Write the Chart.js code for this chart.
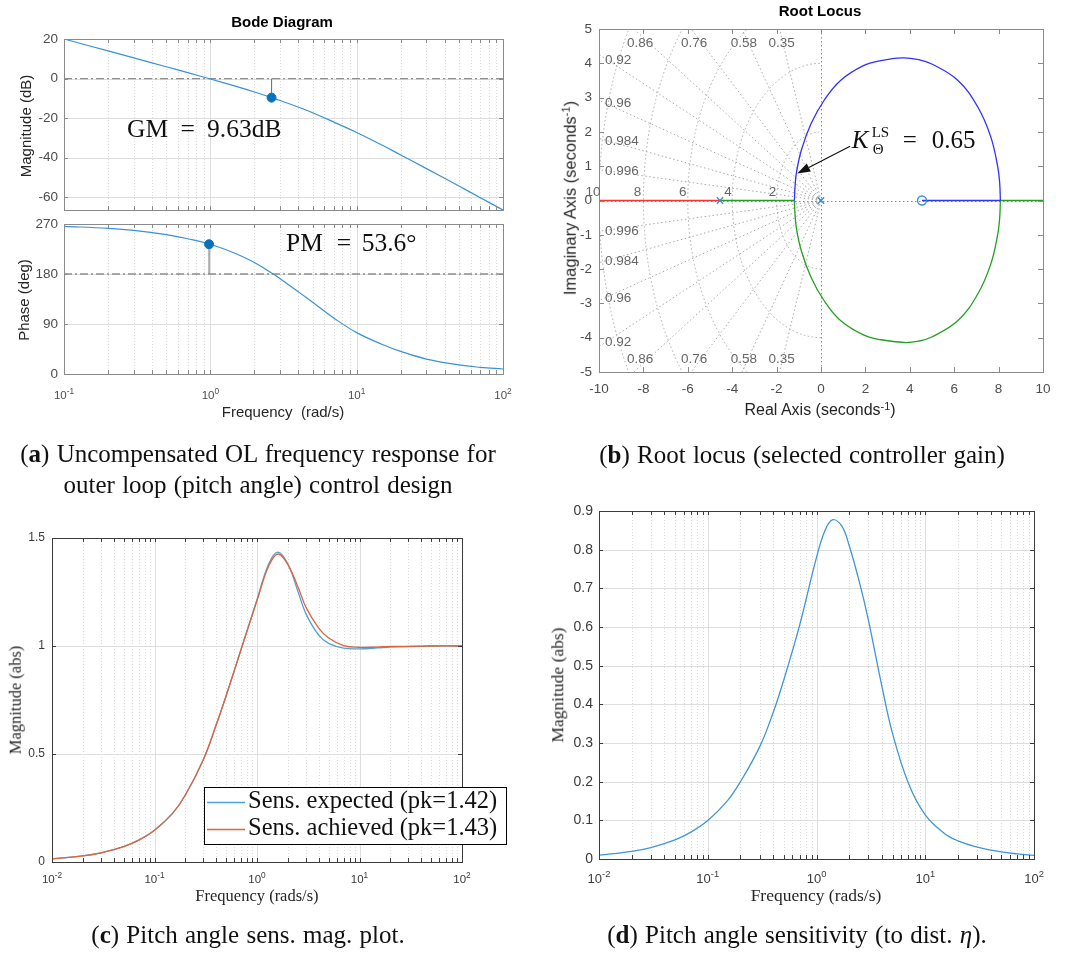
<!DOCTYPE html>
<html><head><meta charset="utf-8"><title>Pitch angle control design plots</title>
<script src="https://cdn.jsdelivr.net/npm/chart.js@4.4.1/dist/chart.umd.min.js"></script>
<style>
html,body{margin:0;padding:0;background:#fff}
#page{position:relative;width:1069px;height:954px;overflow:hidden;background:#fff}
canvas{position:absolute;left:0;top:0}
.lab{position:absolute;white-space:nowrap;line-height:1;transform:translate(-50%,-50%);color:#262626}
.rot{transform:translate(-50%,-50%) rotate(-90deg)}
.sans{font-family:"Liberation Sans",Arial,sans-serif}
.serif{font-family:"Liberation Serif","Times New Roman",serif}
.cap{position:absolute;white-space:nowrap;line-height:1;transform:translate(-50%,-50%);color:#111;font-family:"Liberation Serif","Times New Roman",serif;font-size:25px;word-spacing:1px}
sup{font-size:0.68em;vertical-align:0.5em;line-height:0}
</style></head><body><div id="page">
<canvas id="cMag" width="1069" height="954"></canvas>
<canvas id="cPhase" width="1069" height="954"></canvas>
<canvas id="cRoot" width="1069" height="954"></canvas>
<canvas id="cSens" width="1069" height="954"></canvas>
<canvas id="cDist" width="1069" height="954"></canvas>

<div class="lab sans" style="left:282px;top:21px;font-size:15px;font-weight:bold;color:#000">Bode Diagram</div>
<div class="lab sans rot" style="left:25px;top:126px;font-size:15px">Magnitude (dB)</div>
<div class="lab sans rot" style="left:23px;top:300px;font-size:15px">Phase (deg)</div>
<div class="lab sans" style="left:283px;top:411px;font-size:15px">Frequency&nbsp; (rad/s)</div>

<div class="lab sans" style="left:820px;top:10px;font-size:15px;font-weight:bold;color:#000">Root Locus</div>
<div class="lab sans rot" style="left:570px;top:198px;font-size:16.5px">Imaginary Axis (seconds<sup>-1</sup>)</div>
<div class="lab sans" style="left:820px;top:410px;font-size:16px">Real Axis (seconds<sup>-1</sup>)</div>

<div class="lab serif rot" style="left:16px;top:700px;font-size:16.5px">Magnitude (abs)</div>
<div class="lab serif" style="left:257px;top:896px;font-size:16.5px">Frequency (rads/s)</div>
<div class="lab serif rot" style="left:558px;top:685px;font-size:17.5px">Magnitude (abs)</div>
<div class="lab serif" style="left:816px;top:896px;font-size:17.5px">Frequency (rads/s)</div>

<div class="cap" style="left:258px;top:453px">(<b>a</b>) Uncompensated OL frequency response for</div>
<div class="cap" style="left:258px;top:484px">outer loop (pitch angle) control design</div>
<div class="cap" style="left:802px;top:454px">(<b>b</b>) Root locus (selected controller gain)</div>
<div class="cap" style="left:248px;top:934px">(<b>c</b>) Pitch angle sens. mag. plot.</div>
<div class="cap" style="left:797px;top:934px">(<b>d</b>) Pitch angle sensitivity (to dist. <i>η</i>).</div>
</div>
<script>
// ================= DATA =================
// (a) Bode diagram of the uncompensated open loop
const bodeDecades    = [0.1, 1, 10, 100];
const bodeMagTicks   = [-60, -40, -20, 0, 20];
const bodePhaseTicks = [0, 90, 180, 270];
const bodeFreq   = [0.1, 0.2, 0.3, 0.5, 0.7, 1, 1.5, 2, 2.62, 3, 4, 5, 7, 10, 15, 20, 30, 50, 70, 100];
const bodeMagDb  = [20.0, 13.97, 10.44, 5.97, 3.0, -0.2, -3.96, -6.78, -9.63, -11.1, -14.46, -17.25, -22.0, -27.2, -33.7, -38.6, -45.5, -54.3, -60.2, -66.4];
const phaseFreq  = [0.1, 0.2, 0.3, 0.5, 0.7, 1, 1.5, 2, 2.69, 3, 4, 5, 7, 10, 15, 20, 30, 50, 70, 100];
const phaseDeg   = [265.8, 262.2, 258.6, 251.0, 243.5, 233.6, 216.5, 200.6, 180, 171.5, 147.8, 129.0, 100.5, 74.5, 53.1, 40.6, 26.9, 16.3, 12.0, 9.0];
const gmFreq = [2.62], gmMagDb = [-9.63], gmRefDb = [0];
const pmFreq = [0.98], pmPhase = [233.6], pmRefDeg = [180];

// (b) Root locus
const rlXTicks = [-10, -8, -6, -4, -2, 0, 2, 4, 6, 8, 10];
const rlYTicks = [-5, -4, -3, -2, -1, 0, 1, 2, 3, 4, 5];
const rlDamping = [0.35, 0.58, 0.76, 0.86, 0.92, 0.96, 0.984, 0.996];
const rlNatFreq = [2, 4, 6, 8, 10];
const rlRedX = [-10, -4.55],   rlRedY = [0, 0];
const rlGreenLX = [-4.55, -1.2], rlGreenLY = [0, 0];
const rlBlueRX = [4.55, 8.08],  rlBlueRY = [0, 0];
const rlGreenRX = [8.08, 10],   rlGreenRY = [0, 0];
const rlUpperX = [-1.20, -1.17, -1.11, -0.88, -0.44, 0.15, 0.88, 1.91, 2.70, 3.65, 4.40, 4.99, 6.17, 7.05, 7.64, 7.96, 8.05, 8.08];
const rlUpperY = [0, 0.40, 0.80, 1.48, 2.25, 2.93, 3.50, 3.93, 4.08, 4.16, 4.11, 3.98, 3.50, 2.74, 1.87, 0.99, 0.50, 0];
const rlLowerX = [-1.20, -1.17, -1.11, -0.88, -0.44, 0.15, 0.88, 1.91, 2.70, 3.75, 4.40, 4.99, 6.17, 7.05, 7.64, 7.96, 8.05, 8.08];
const rlLowerY = [0, -0.40, -0.80, -1.48, -2.25, -2.93, -3.50, -3.92, -4.06, -4.14, -4.10, -3.98, -3.50, -2.74, -1.87, -0.99, -0.50, 0];
const rlPoleX = [-4.55, 0], rlPoleY = [0, 0];
const rlZeroX = [4.55],     rlZeroY = [0];
const rlGainX = [-1.07], rlGainY = [0.79];

// (c) Pitch angle sensitivity magnitude
const sensDecades = [0.01, 0.1, 1, 10, 100];
const sensTicks = [0, 0.5, 1, 1.5];
const sensFreq     = [0.01, 0.02, 0.03, 0.05, 0.07, 0.1, 0.15, 0.2, 0.3, 0.4, 0.5, 0.7, 1, 1.3, 1.6, 2, 2.5, 3, 4, 5, 7, 10, 15, 20, 50, 100];
const sensExpected = [0.014, 0.028, 0.042, 0.071, 0.101, 0.147, 0.225, 0.31, 0.475, 0.635, 0.77, 0.985, 1.215, 1.38, 1.435, 1.38, 1.255, 1.15, 1.05, 1.012, 0.99, 0.987, 0.991, 0.995, 1.0, 1.0];
const sensAchieved = [0.014, 0.028, 0.042, 0.071, 0.101, 0.147, 0.225, 0.31, 0.475, 0.635, 0.77, 0.985, 1.21, 1.37, 1.426, 1.377, 1.276, 1.18, 1.083, 1.037, 1.002, 0.994, 0.995, 0.998, 1.0, 1.0];
const sensNames = ['Sens. expected (pk=1.42)', 'Sens. achieved (pk=1.43)'];

// (d) Pitch angle sensitivity to disturbance
const distTicks = [0, 0.1, 0.2, 0.3, 0.4, 0.5, 0.6, 0.7, 0.8, 0.9];
const distFreq = [0.01, 0.02, 0.03, 0.05, 0.07, 0.1, 0.15, 0.2, 0.3, 0.4, 0.5, 0.7, 1, 1.2, 1.4, 1.7, 2, 2.5, 3, 4, 5, 7, 10, 15, 20, 30, 50, 70, 100];
const distMag  = [0.0098, 0.0197, 0.0296, 0.0495, 0.0695, 0.0995, 0.149, 0.2, 0.29, 0.379, 0.463, 0.605, 0.78, 0.85, 0.877, 0.862, 0.81, 0.712, 0.618, 0.446, 0.325, 0.196, 0.114, 0.066, 0.047, 0.031, 0.0185, 0.0133, 0.0093];

// ================= RENDERING =================
const W = 1069, H = 954;
const SANS = '"Liberation Sans", Arial, sans-serif';
const SERIF = '"Liberation Serif", "Times New Roman", serif';
const zip = (xs, ys) => xs.map((x, i) => ({x, y: ys[i]}));
const minorLog = d => { const o = []; for (let i = 0; i < d.length - 1; i++) for (let k = 2; k <= 9; k++) o.push(+(d[i] * k).toPrecision(3)); return o; };
function seg(ctx, x1, y1, x2, y2) { ctx.beginPath(); ctx.moveTo(x1, y1); ctx.lineTo(x2, y2); ctx.stroke(); }

function logLabel(ctx, v, px, baseY, size, color) {
  const e = String(Math.round(Math.log10(v)));
  ctx.font = size + 'px ' + SANS; const wb = ctx.measureText('10').width;
  const ss = size * 0.72;
  ctx.font = ss + 'px ' + SANS; const ws = ctx.measureText(e).width;
  const left = px - (wb + ws) / 2;
  ctx.fillStyle = color; ctx.textAlign = 'left'; ctx.textBaseline = 'alphabetic';
  ctx.font = size + 'px ' + SANS; ctx.fillText('10', left, baseY);
  ctx.font = ss + 'px ' + SANS; ctx.fillText(e, left + wb, baseY - size * 0.45);
}
function pieces(ctx, x0, y0, font, parts) {
  ctx.fillStyle = '#111'; ctx.textAlign = 'left'; ctx.textBaseline = 'alphabetic'; ctx.font = font;
  parts.forEach(([t, dx]) => ctx.fillText(t, x0 + dx, y0));
}

function frame(cfg) {
  return {
    id: 'frame',
    beforeDatasetsDraw(chart) {
      const {ctx, chartArea: a} = chart, x = chart.scales.x, y = chart.scales.y;
      ctx.save();
      ctx.beginPath(); ctx.rect(a.left, a.top, a.width, a.height); ctx.clip();
      ctx.lineWidth = 1;
      if (cfg.grid) {
        ctx.strokeStyle = cfg.minorColor || '#dcdcdc'; ctx.setLineDash([1, 2]);
        (cfg.xMinor || []).forEach(v => { const p = Math.round(x.getPixelForValue(v)) + 0.5; seg(ctx, p, a.top, p, a.bottom); });
        ctx.setLineDash([]); ctx.strokeStyle = cfg.majorColor || '#dedede';
        cfg.xTicks.forEach(v => { const p = Math.round(x.getPixelForValue(v)) + 0.5; seg(ctx, p, a.top, p, a.bottom); });
        cfg.yTicks.forEach(v => { const p = Math.round(y.getPixelForValue(v)) + 0.5; seg(ctx, a.left, p, a.right, p); });
      }
      if (cfg.under) cfg.under(chart, ctx, x, y);
      ctx.restore();
    },
    afterDatasetsDraw(chart) {
      const {ctx, chartArea: a} = chart, x = chart.scales.x, y = chart.scales.y;
      ctx.save();
      ctx.lineWidth = 1; ctx.strokeStyle = cfg.boxColor; ctx.setLineDash([]);
      const tl = cfg.tickLen || 4;
      cfg.xTicks.concat(cfg.xMinor || []).forEach(v => {
        const p = Math.round(x.getPixelForValue(v)) + 0.5;
        seg(ctx, p, a.bottom, p, a.bottom - tl); seg(ctx, p, a.top, p, a.top + tl);
      });
      cfg.yTicks.forEach(v => {
        const p = Math.round(y.getPixelForValue(v)) + 0.5;
        seg(ctx, a.left, p, a.left + tl, p); seg(ctx, a.right, p, a.right - tl, p);
      });
      ctx.strokeRect(Math.round(a.left) + 0.5, Math.round(a.top) + 0.5, Math.round(a.width), Math.round(a.height));
      const col = cfg.labelColor || '#4d4d4d';
      if (cfg.yLabels) {
        ctx.fillStyle = col; ctx.font = cfg.labelSize + 'px ' + SANS;
        ctx.textAlign = 'right'; ctx.textBaseline = 'middle';
        cfg.yTicks.forEach(v => ctx.fillText(String(v), a.left - cfg.yGap, y.getPixelForValue(v)));
      }
      if (cfg.xLabels === 'log') {
        cfg.xTicks.forEach(v => logLabel(ctx, v, x.getPixelForValue(v), a.bottom + cfg.xDy, cfg.logSize, col));
      } else if (cfg.xLabels === 'lin') {
        ctx.fillStyle = col; ctx.font = cfg.labelSize + 'px ' + SANS;
        ctx.textAlign = 'center'; ctx.textBaseline = 'alphabetic';
        cfg.xTicks.forEach(v => ctx.fillText(String(v), x.getPixelForValue(v), a.bottom + cfg.xDy));
      }
      if (cfg.over) cfg.over(chart, ctx, x, y);
      ctx.restore();
    }
  };
}

function makeChart(id, rect, scales, datasets, fr) {
  return new Chart(document.getElementById(id), {
    type: 'scatter',
    data: {datasets},
    options: {
      responsive: false, animation: false, devicePixelRatio: 1, events: [],
      layout: {padding: {left: rect.l, top: rect.t, right: W - rect.r, bottom: H - rect.b}},
      plugins: {legend: {display: false}, tooltip: {enabled: false}, title: {display: false}},
      scales: {
        x: Object.assign({display: false, bounds: 'data'}, scales.x),
        y: Object.assign({display: false, bounds: 'data'}, scales.y)
      }
    },
    plugins: [frame(fr)]
  });
}

const lineDs = (data, color, width, extra) => Object.assign({data, showLine: true, pointRadius: 0, borderColor: color, borderWidth: width || 1.2, tension: 0.4, fill: false}, extra || {});
const BLUE = '#3a91d6', MARK = '#0a72bd', REF = '#8e8e8e';
const DASHDOT = [8, 3, 2, 3];

// ---- (a) magnitude
makeChart('cMag', {l: 64, t: 39, r: 503, b: 210},
  {x: {type: 'logarithmic', min: bodeDecades[0], max: bodeDecades[bodeDecades.length - 1]}, y: {min: -66.4, max: 20}},
  [
    {data: zip(gmFreq, gmMagDb), pointRadius: 4.5, backgroundColor: MARK, borderColor: MARK, borderWidth: 1},
    lineDs(zip(bodeFreq, bodeMagDb), BLUE, 1.2),
    lineDs([{x: gmFreq[0], y: gmRefDb[0]}, {x: gmFreq[0], y: gmMagDb[0]}], '#777', 1.1, {tension: 0}),
    lineDs([{x: bodeDecades[0], y: gmRefDb[0]}, {x: bodeDecades[bodeDecades.length - 1], y: gmRefDb[0]}], REF, 1.3, {borderDash: DASHDOT, tension: 0})
  ],
  {xTicks: bodeDecades, xMinor: minorLog(bodeDecades), yTicks: bodeMagTicks, grid: true, boxColor: '#8a8a8a',
   yLabels: true, labelSize: 13.5, yGap: 6, xLabels: null,
   over(chart, ctx, x, y) {
     pieces(ctx, x.getPixelForValue(0.27), y.getPixelForValue(-29.5), '25.5px ' + SERIF, [['GM', 0], ['=', 53.3], ['9.63dB', 80]]);
   }});

// ---- (a) phase
makeChart('cPhase', {l: 64, t: 224, r: 503, b: 374},
  {x: {type: 'logarithmic', min: bodeDecades[0], max: bodeDecades[bodeDecades.length - 1]}, y: {min: 0, max: 270}},
  [
    {data: zip(pmFreq, pmPhase), pointRadius: 4.5, backgroundColor: MARK, borderColor: MARK, borderWidth: 1},
    lineDs(zip(phaseFreq, phaseDeg), BLUE, 1.2),
    lineDs([{x: pmFreq[0], y: pmRefDeg[0]}, {x: pmFreq[0], y: pmPhase[0]}], '#777', 1.1, {tension: 0}),
    lineDs([{x: bodeDecades[0], y: pmRefDeg[0]}, {x: bodeDecades[bodeDecades.length - 1], y: pmRefDeg[0]}], REF, 1.3, {borderDash: DASHDOT, tension: 0})
  ],
  {xTicks: bodeDecades, xMinor: minorLog(bodeDecades), yTicks: bodePhaseTicks, grid: true, boxColor: '#8a8a8a',
   yLabels: true, labelSize: 13.5, yGap: 6, xLabels: 'log', logSize: 11.5, xDy: 25,
   over(chart, ctx, x, y) {
     pieces(ctx, x.getPixelForValue(3.29), y.getPixelForValue(220.6), '25.5px ' + SERIF, [['PM', 0], ['=', 50.7], ['53.6°', 75.7]]);
   }});

// ---- (b) root locus
const RED = '#ff3030', GREEN = '#22a022', RLBLUE = '#3030ff', PZ = '#3b8ed6';
const rlLabelPos = [ // label anchors [kind, index, x, y, align]
  ['d', 3, -8.15, 4.57, 'center'], ['d', 2, -5.72, 4.57, 'center'], ['d', 1, -3.47, 4.57, 'center'], ['d', 0, -1.77, 4.57, 'center'],
  ['d', 3, -8.15, -4.62, 'center'], ['d', 2, -5.72, -4.62, 'center'], ['d', 1, -3.47, -4.62, 'center'], ['d', 0, -1.77, -4.62, 'center'],
  ['d', 4, -9.73, 4.1, 'left'], ['d', 5, -9.73, 2.82, 'left'], ['d', 6, -9.73, 1.72, 'left'], ['d', 7, -9.73, 0.86, 'left'],
  ['d', 4, -9.73, -4.12, 'left'], ['d', 5, -9.73, -2.86, 'left'], ['d', 6, -9.73, -1.76, 'left'], ['d', 7, -9.73, -0.9, 'left'],
  ['w', 4, -10.27, 0.25, 'center'], ['w', 3, -8.26, 0.25, 'center'], ['w', 2, -6.23, 0.25, 'center'], ['w', 1, -4.19, 0.25, 'center'], ['w', 0, -2.18, 0.25, 'center']
];
makeChart('cRoot', {l: 599, t: 29, r: 1043, b: 372},
  {x: {min: -10, max: 10}, y: {min: -5, max: 5}},
  [
    {data: zip(rlPoleX, rlPoleY), pointStyle: 'crossRot', pointRadius: 4.5, borderColor: PZ, borderWidth: 1.4},
    {data: zip(rlZeroX, rlZeroY), pointStyle: 'circle', pointRadius: 4.5, borderColor: PZ, backgroundColor: 'rgba(0,0,0,0)', borderWidth: 1.4},
    lineDs(zip(rlUpperX, rlUpperY), RLBLUE, 1.3, {tension: 0.4}),
    lineDs(zip(rlLowerX, rlLowerY), GREEN, 1.3, {tension: 0.4}),
    lineDs(zip(rlRedX, rlRedY), RED, 1.4, {tension: 0}),
    lineDs(zip(rlGreenLX, rlGreenLY), GREEN, 1.4, {tension: 0}),
    lineDs(zip(rlBlueRX, rlBlueRY), RLBLUE, 1.4, {tension: 0}),
    lineDs(zip(rlGreenRX, rlGreenRY), GREEN, 1.4, {tension: 0})
  ],
  {xTicks: rlXTicks, yTicks: rlYTicks, grid: false, boxColor: '#8a8a8a', tickLen: 5,
   yLabels: true, labelSize: 13.5, yGap: 7, xLabels: 'lin', xDy: 21,
   under(chart, ctx, x, y) {
     const ox = x.getPixelForValue(0), oy = y.getPixelForValue(0);
     const ux = x.getPixelForValue(1) - ox, uy = oy - y.getPixelForValue(1);
     ctx.strokeStyle = '#a8a8a8'; ctx.lineWidth = 1; ctx.setLineDash([1.5, 2.5]);
     rlDamping.forEach(z => {
       const s = Math.sqrt(1 - z * z);
       [1, -1].forEach(sg => seg(ctx, ox, oy, x.getPixelForValue(-12 * z), y.getPixelForValue(sg * 12 * s)));
     });
     rlNatFreq.forEach(w => { ctx.beginPath(); ctx.ellipse(ox, oy, w * ux, w * uy, 0, Math.PI / 2, 1.5 * Math.PI); ctx.stroke(); });
     ctx.strokeStyle = '#8a8a8a';
     seg(ctx, chart.chartArea.left, Math.round(oy) + 0.5, chart.chartArea.right, Math.round(oy) + 0.5);
     seg(ctx, Math.round(ox) + 0.5, chart.chartArea.top, Math.round(ox) + 0.5, chart.chartArea.bottom);
   },
   over(chart, ctx, x, y) {
     ctx.fillStyle = '#666'; ctx.font = '13.5px ' + SANS; ctx.textBaseline = 'middle';
     rlLabelPos.forEach(([k, i, lx, ly, al]) => {
       ctx.textAlign = al;
       ctx.fillText(k === 'd' ? String(rlDamping[i]) : String(rlNatFreq[i]), x.getPixelForValue(lx), y.getPixelForValue(ly));
     });
     const tx = x.getPixelForValue(1.31), ty = y.getPixelForValue(1.58);
     const hx = x.getPixelForValue(rlGainX[0]), hy = y.getPixelForValue(rlGainY[0]);
     const ang = Math.atan2(hy - ty, hx - tx), L = 13, Wd = 4.5;
     const bx = hx - L * Math.cos(ang), by = hy - L * Math.sin(ang);
     ctx.strokeStyle = '#111'; ctx.lineWidth = 1.2; seg(ctx, tx, ty, bx, by);
     ctx.fillStyle = '#111'; ctx.beginPath(); ctx.moveTo(hx, hy);
     ctx.lineTo(bx + Wd * Math.sin(ang), by - Wd * Math.cos(ang));
     ctx.lineTo(bx - Wd * Math.sin(ang), by + Wd * Math.cos(ang)); ctx.closePath(); ctx.fill();
     const kx = x.getPixelForValue(1.38), ky = y.getPixelForValue(1.54);
     ctx.textAlign = 'left'; ctx.textBaseline = 'alphabetic'; ctx.fillStyle = '#111';
     ctx.font = 'italic 25px ' + SERIF; ctx.fillText('K', kx, ky);
     ctx.font = '15px ' + SERIF; ctx.fillText('LS', kx + 20, ky - 10.5);
     ctx.fillText('Θ', kx + 21, ky + 6.5);
     ctx.font = '25px ' + SERIF; ctx.fillText('=', kx + 51, ky); ctx.fillText('0.65', kx + 80, ky);
   }});

// ---- (c) sensitivity magnitude
const C_BLUE = '#4da3e0', C_ORANGE = '#e0643a';
makeChart('cSens', {l: 52, t: 538, r: 462, b: 862},
  {x: {type: 'logarithmic', min: sensDecades[0], max: sensDecades[sensDecades.length - 1]}, y: {min: 0, max: 1.5}},
  [
    lineDs(zip(sensFreq, sensAchieved), C_ORANGE, 1.3),
    lineDs(zip(sensFreq, sensExpected), C_BLUE, 1.3)
  ],
  {xTicks: sensDecades, xMinor: minorLog(sensDecades), yTicks: sensTicks, grid: true, boxColor: '#3c3c3c', labelColor: '#3a3a3a',
   yLabels: true, labelSize: 12, yGap: 7, xLabels: 'log', logSize: 11.5, xDy: 21,
   over(chart, ctx) {
     ctx.fillStyle = '#fff'; ctx.fillRect(204, 787, 302, 57);
     ctx.strokeStyle = '#000'; ctx.lineWidth = 1; ctx.strokeRect(204.5, 787.5, 302, 57);
     const rows = [[C_BLUE, 802.5, 808], [C_ORANGE, 829.5, 835]];
     rows.forEach(([c, ly, by], i) => {
       ctx.strokeStyle = c; ctx.lineWidth = 1.4; seg(ctx, 207, ly, 245, ly);
       ctx.fillStyle = '#111'; ctx.font = '24.5px ' + SERIF; ctx.textAlign = 'left'; ctx.textBaseline = 'alphabetic';
       ctx.fillText(sensNames[i], 248, by);
     });
   }});

// ---- (d) sensitivity to disturbance
makeChart('cDist', {l: 599, t: 511, r: 1034, b: 859},
  {x: {type: 'logarithmic', min: sensDecades[0], max: sensDecades[sensDecades.length - 1]}, y: {min: 0, max: 0.9}},
  [lineDs(zip(distFreq, distMag), '#3f95d8', 1.3)],
  {xTicks: sensDecades, xMinor: minorLog(sensDecades), yTicks: distTicks, grid: true, boxColor: '#3c3c3c', labelColor: '#3a3a3a',
   yLabels: true, labelSize: 14, yGap: 6, xLabels: 'log', logSize: 13, xDy: 24});
</script>
</body></html>
